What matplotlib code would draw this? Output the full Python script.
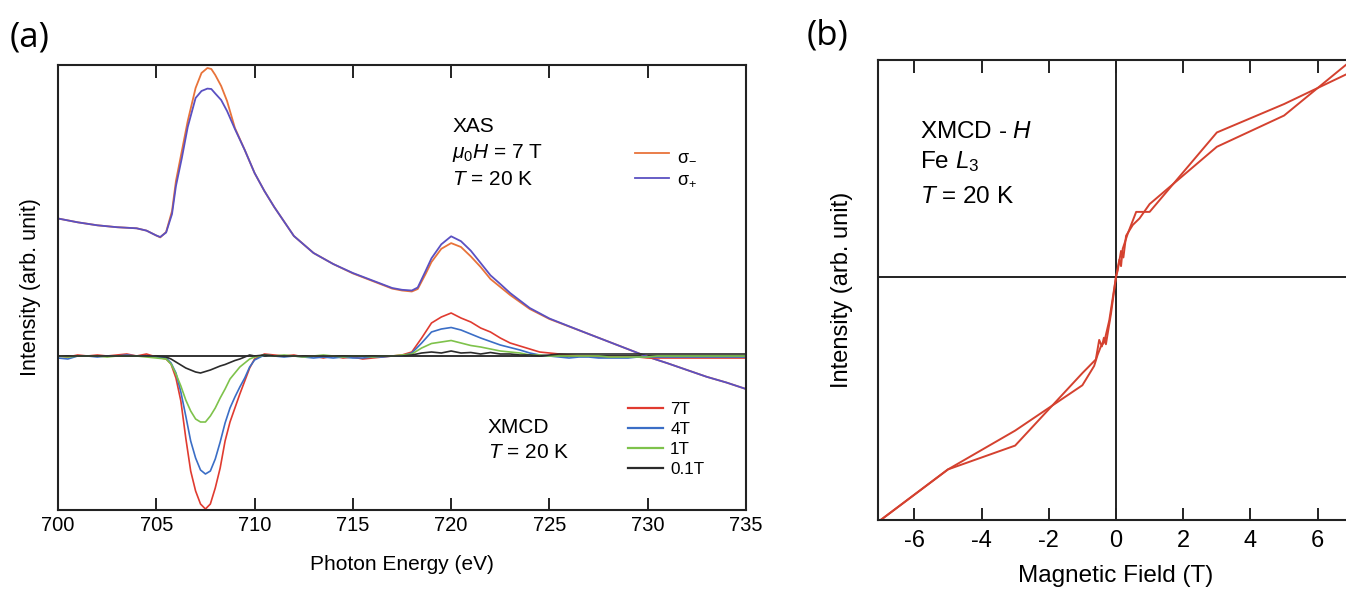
import matplotlib

matplotlib.use("Agg")
import matplotlib.pyplot as plt
from matplotlib.lines import Line2D
import numpy as np

plt.rcParams["font.family"] = ["Liberation Sans", "DejaVu Sans"]
plt.rcParams["mathtext.fontset"] = "custom"
plt.rcParams["mathtext.rm"] = "Liberation Sans"
plt.rcParams["mathtext.it"] = "Liberation Sans:italic"
plt.rcParams["mathtext.bf"] = "Liberation Sans:bold"
plt.rcParams["axes.unicode_minus"] = False

# ---- panel (a): XAS spectra (sigma-, sigma+) at 7 T
energy_xas = [700, 701, 702, 703, 704, 704.5, 705, 705.2, 705.5, 705.8, 706, 706.3, 706.6,
              707, 707.3, 707.6, 707.8, 708, 708.3, 708.6, 709, 709.5, 710, 710.5, 711, 712,
              713, 714, 715, 716, 717, 717.5, 718, 718.3, 718.7, 719, 719.5, 720, 720.5, 721,
              721.5, 722, 722.5, 723, 724, 725, 726, 727, 728, 729, 730, 731, 732, 733, 734, 735]
xas_minus = [1.375, 1.337, 1.307, 1.288, 1.277, 1.254, 1.205, 1.186, 1.24, 1.45, 1.75, 2.05, 2.35,
             2.68, 2.83, 2.88, 2.87, 2.81, 2.70, 2.55, 2.28, 2.06, 1.83, 1.65, 1.49, 1.20,
             1.03, 0.92, 0.826, 0.75, 0.674, 0.655, 0.645, 0.67, 0.82, 0.94, 1.072, 1.129, 1.09, 0.996,
             0.89, 0.77, 0.69, 0.61, 0.47, 0.37, 0.295, 0.22, 0.144, 0.068, -0.008, -0.072, -0.14, -0.208, -0.265, -0.33]
xas_plus = [1.375, 1.337, 1.307, 1.288, 1.277, 1.254, 1.205, 1.19, 1.235, 1.42, 1.70, 1.98, 2.29,
            2.58, 2.65, 2.674, 2.67, 2.625, 2.56, 2.45, 2.27, 2.06, 1.83, 1.65, 1.49, 1.20,
            1.03, 0.92, 0.83, 0.755, 0.68, 0.662, 0.655, 0.685, 0.85, 0.977, 1.117, 1.197, 1.148, 1.053,
            0.93, 0.807, 0.72, 0.63, 0.48, 0.375, 0.297, 0.22, 0.144, 0.068, -0.008, -0.072, -0.14, -0.208, -0.265, -0.33]

# ---- panel (a): XMCD spectra at several fields
energy_xmcd = [700, 700.5, 701, 701.5, 702, 702.5, 703, 703.5, 704, 704.5, 705, 705.5,
               705.75, 706, 706.25, 706.5, 706.75, 707, 707.25, 707.5, 707.75, 708, 708.25, 708.5,
               708.75, 709, 709.25, 709.5, 709.75, 710,
               710.5, 711, 711.5, 712, 712.5, 713, 713.5, 714, 714.5, 715,
               715.5, 716, 716.5, 717, 717.5, 718, 718.5, 719, 719.5, 720,
               720.5, 721, 721.5, 722, 722.5, 723, 723.5, 724, 724.5, 725,
               725.5, 726, 726.5, 727, 727.5, 728, 728.5, 729, 729.5, 730,
               730.5, 731, 731.5, 732, 732.5, 733, 733.5, 734, 734.5, 735]
xmcd_7T = [0.00, -0.01, 0.01, 0.00, 0.01, 0.00, 0.01, 0.02, 0.00, 0.02, -0.01, -0.03,
           -0.08, -0.22, -0.45, -0.82, -1.15, -1.35, -1.48, -1.53, -1.48, -1.32, -1.12, -0.85,
           -0.66, -0.52, -0.38, -0.25, -0.12, -0.03,
           0.02, 0.01, 0.00, 0.01, -0.01, 0.00, -0.02, 0.00, -0.02, -0.01,
           -0.03, -0.02, -0.01, 0.00, 0.01, 0.04, 0.18, 0.33, 0.39, 0.43,
           0.38, 0.34, 0.28, 0.24, 0.18, 0.13, 0.10, 0.07, 0.04, 0.03,
           0.02, 0.01, 0.00, 0.00, -0.01, -0.01, -0.01, -0.01, -0.01, -0.02,
           -0.02, -0.02, -0.02, -0.02, -0.02, -0.02, -0.02, -0.02, -0.02, -0.02]
xmcd_4T = [-0.02, -0.03, 0.00, 0.00, -0.01, 0.00, 0.00, 0.01, 0.00, 0.00, -0.01, -0.02,
           -0.07, -0.17, -0.36, -0.60, -0.85, -1.02, -1.14, -1.18, -1.15, -1.03, -0.86, -0.67,
           -0.52, -0.41, -0.31, -0.22, -0.11, -0.04,
           0.01, 0.00, -0.01, 0.00, -0.01, -0.02, -0.01, -0.02, -0.01, -0.02,
           -0.02, -0.01, -0.01, 0.00, 0.00, 0.03, 0.13, 0.24, 0.27, 0.285,
           0.26, 0.22, 0.18, 0.145, 0.11, 0.085, 0.06, 0.03, 0.01, 0.00,
           -0.01, -0.02, -0.01, -0.01, -0.02, -0.02, -0.02, -0.02, -0.01, -0.01,
           -0.01, -0.01, -0.01, -0.01, -0.01, -0.01, -0.01, -0.01, -0.01, -0.01]
xmcd_1T = [0.00, -0.01, 0.00, 0.00, 0.00, -0.01, 0.00, 0.00, 0.00, -0.01, -0.02, -0.03,
           -0.08, -0.18, -0.30, -0.44, -0.55, -0.63, -0.66, -0.66, -0.60, -0.52, -0.42, -0.33,
           -0.23, -0.17, -0.11, -0.07, -0.03, -0.01,
           0.01, 0.00, 0.01, 0.00, -0.01, 0.00, 0.01, 0.00, -0.01, 0.00,
           0.00, -0.01, 0.00, 0.00, 0.01, 0.02, 0.08, 0.125, 0.14, 0.155,
           0.13, 0.105, 0.09, 0.07, 0.05, 0.04, 0.03, 0.01, 0.01, 0.00,
           0.00, 0.00, 0.00, 0.00, 0.00, -0.01, -0.01, -0.01, -0.01, -0.01,
           0.00, 0.00, 0.00, 0.00, 0.00, 0.00, 0.00, 0.00, 0.00, 0.00]
xmcd_01T = [0.00, 0.00, 0.00, 0.00, 0.00, 0.00, 0.00, 0.00, 0.00, 0.00, 0.00, -0.01,
            -0.03, -0.06, -0.09, -0.12, -0.14, -0.16, -0.17, -0.155, -0.14, -0.12, -0.10, -0.085,
            -0.065, -0.045, -0.03, -0.01, 0.01, 0.00,
            0.01, 0.00, 0.00, 0.00, 0.00, 0.00, 0.00, 0.00, 0.00, 0.00,
            0.00, 0.00, 0.00, 0.00, 0.00, 0.01, 0.03, 0.04, 0.03, 0.05,
            0.03, 0.035, 0.02, 0.035, 0.02, 0.02, 0.01, 0.01, 0.00, 0.01,
            0.02, 0.02, 0.02, 0.02, 0.02, 0.02, 0.02, 0.02, 0.02, 0.02,
            0.02, 0.02, 0.02, 0.02, 0.02, 0.02, 0.02, 0.02, 0.02, 0.02]

xmcd_series = [("7T", xmcd_7T, "#e03b30"), ("4T", xmcd_4T, "#3b6ec6"),
               ("1T", xmcd_1T, "#7ec24b"), ("0.1T", xmcd_01T, "#2b2b2b")]

# ---- panel (b): XMCD - H loop at Fe L3
field_up = [-7, -5, -3, -1, -0.6, -0.5, -0.42, -0.36, -0.3, -0.15, 0, 0.1, 0.15, 0.2, 0.35,
            0.6, 1.0, 3, 5, 7]
loop_up = [-1.12, -0.887, -0.777, -0.443, -0.38, -0.29, -0.32, -0.28, -0.31, -0.17, 0, 0.08,
           0.05, 0.13, 0.20, 0.30, 0.30, 0.666, 0.797, 0.945]
field_down = [7, 5, 3, 1, 0.7, 0.5, 0.3, 0.22, 0.15, 0.05, 0, -0.2, -0.35, -0.45, -0.55,
              -0.65, -1, -3, -5, -7]
loop_down = [0.998, 0.744, 0.60, 0.336, 0.27, 0.24, 0.19, 0.09, 0.12, 0.03, 0, -0.2, -0.3,
             -0.32, -0.36, -0.41, -0.499, -0.708, -0.887, -1.12]

W, H = 1346, 592
fig = plt.figure(figsize=(W / 100, H / 100), dpi=100)

spine_c = "#222222"

# ---------------- panel (a)
ax = fig.add_axes([58 / W, 1 - 510 / H, 688 / W, 445 / H])
ax.axhline(0, color=spine_c, lw=1.3, zorder=1)
ax.plot(energy_xas, xas_minus, color="#e8733a", lw=1.3, label="σ$_{-}$")
ax.plot(energy_xas, xas_plus, color="#5a50c2", lw=1.3, label="σ$_{+}$")
for lab, vals, col in xmcd_series:
    ax.plot(energy_xmcd, vals, color=col, lw=1.2)
ax.set_xlim(700, 735)
ax.set_ylim(-1.54, 2.91)
ax.set_xticks(np.arange(700, 736, 5))
ax.set_yticks([])
ax.tick_params(axis="x", direction="in", top=True, length=9, width=1.4,
               labelsize=14.5, pad=4, color=spine_c)
for s in ax.spines.values():
    s.set_linewidth(1.5)
    s.set_color(spine_c)
ax.set_xlabel("Photon Energy (eV)", fontsize=15)
ax.xaxis.set_label_coords(0.5, -0.1)
ax.set_ylabel("Intensity (arb. unit)", fontsize=15.5)
ax.yaxis.set_label_coords(-0.025, 0.5)

ax.text(0.573, 0.861, "XAS", transform=ax.transAxes, fontsize=15, va="center", ha="left")
ax.text(0.573, 0.802, r"$\mu_0H$ = 7 T", transform=ax.transAxes, fontsize=15, va="center", ha="left")
ax.text(0.573, 0.742, r"$T$ = 20 K", transform=ax.transAxes, fontsize=15, va="center", ha="left")
ax.text(0.625, 0.185, "XMCD", transform=ax.transAxes, fontsize=15, va="center", ha="left")
ax.text(0.625, 0.13, r"$T$ = 20 K", transform=ax.transAxes, fontsize=15, va="center", ha="left")

leg1 = ax.legend(loc="center left", bbox_to_anchor=(0.838, 0.770), frameon=False,
                 fontsize=13, handlelength=1.9, handletextpad=0.45, labelspacing=0.42,
                 borderpad=0, borderaxespad=0)
ax.add_artist(leg1)
handles2 = [Line2D([], [], color=col, lw=1.6) for _, _, col in xmcd_series]
labels2 = [lab for lab, _, _ in xmcd_series]
ax.legend(handles2, labels2, loc="center left", bbox_to_anchor=(0.829, 0.158), frameon=False,
          fontsize=12.3, handlelength=2.0, handletextpad=0.45, labelspacing=0.3,
          borderpad=0, borderaxespad=0)

# ---------------- panel (b)
bx = fig.add_axes([878 / W, 1 - 520 / H, 476 / W, 460 / H])
bx.axhline(0, color=spine_c, lw=1.4, zorder=1)
bx.axvline(0, color=spine_c, lw=1.4, zorder=1)
bx.plot(field_up, loop_up, color="#d4412f", lw=1.4)
bx.plot(field_down, loop_down, color="#d4412f", lw=1.4)
bx.set_xlim(-7.08, 7.08)
bx.set_ylim(-1.12, 1.0)
bx.set_xticks([-6, -4, -2, 0, 2, 4, 6])
bx.set_yticks([])
bx.tick_params(axis="x", direction="in", top=True, length=9, width=1.4,
               labelsize=17, pad=7, color=spine_c)
for s in bx.spines.values():
    s.set_linewidth(1.5)
    s.set_color(spine_c)
bx.set_xlabel("Magnetic Field (T)", fontsize=17.5)
bx.xaxis.set_label_coords(0.5, -0.098)
bx.set_ylabel("Intensity (arb. unit)", fontsize=17)
bx.yaxis.set_label_coords(-0.053, 0.5)
bx.text(0.088, 0.844, r"XMCD - $H$", transform=bx.transAxes, fontsize=17.5, va="center", ha="left")
bx.text(0.088, 0.779, r"Fe $L_3$", transform=bx.transAxes, fontsize=17.5, va="center", ha="left")
bx.text(0.088, 0.703, r"$T$ = 20 K", transform=bx.transAxes, fontsize=17.5, va="center", ha="left")

fig.text(30 / W, 1 - 38 / H, "(a)", fontsize=25, family="Open Sans", ha="center", va="center")
fig.text(828 / W, 1 - 36 / H, "(b)", fontsize=25, family="Open Sans", ha="center", va="center")

fig.savefig("out.png", dpi=100)
